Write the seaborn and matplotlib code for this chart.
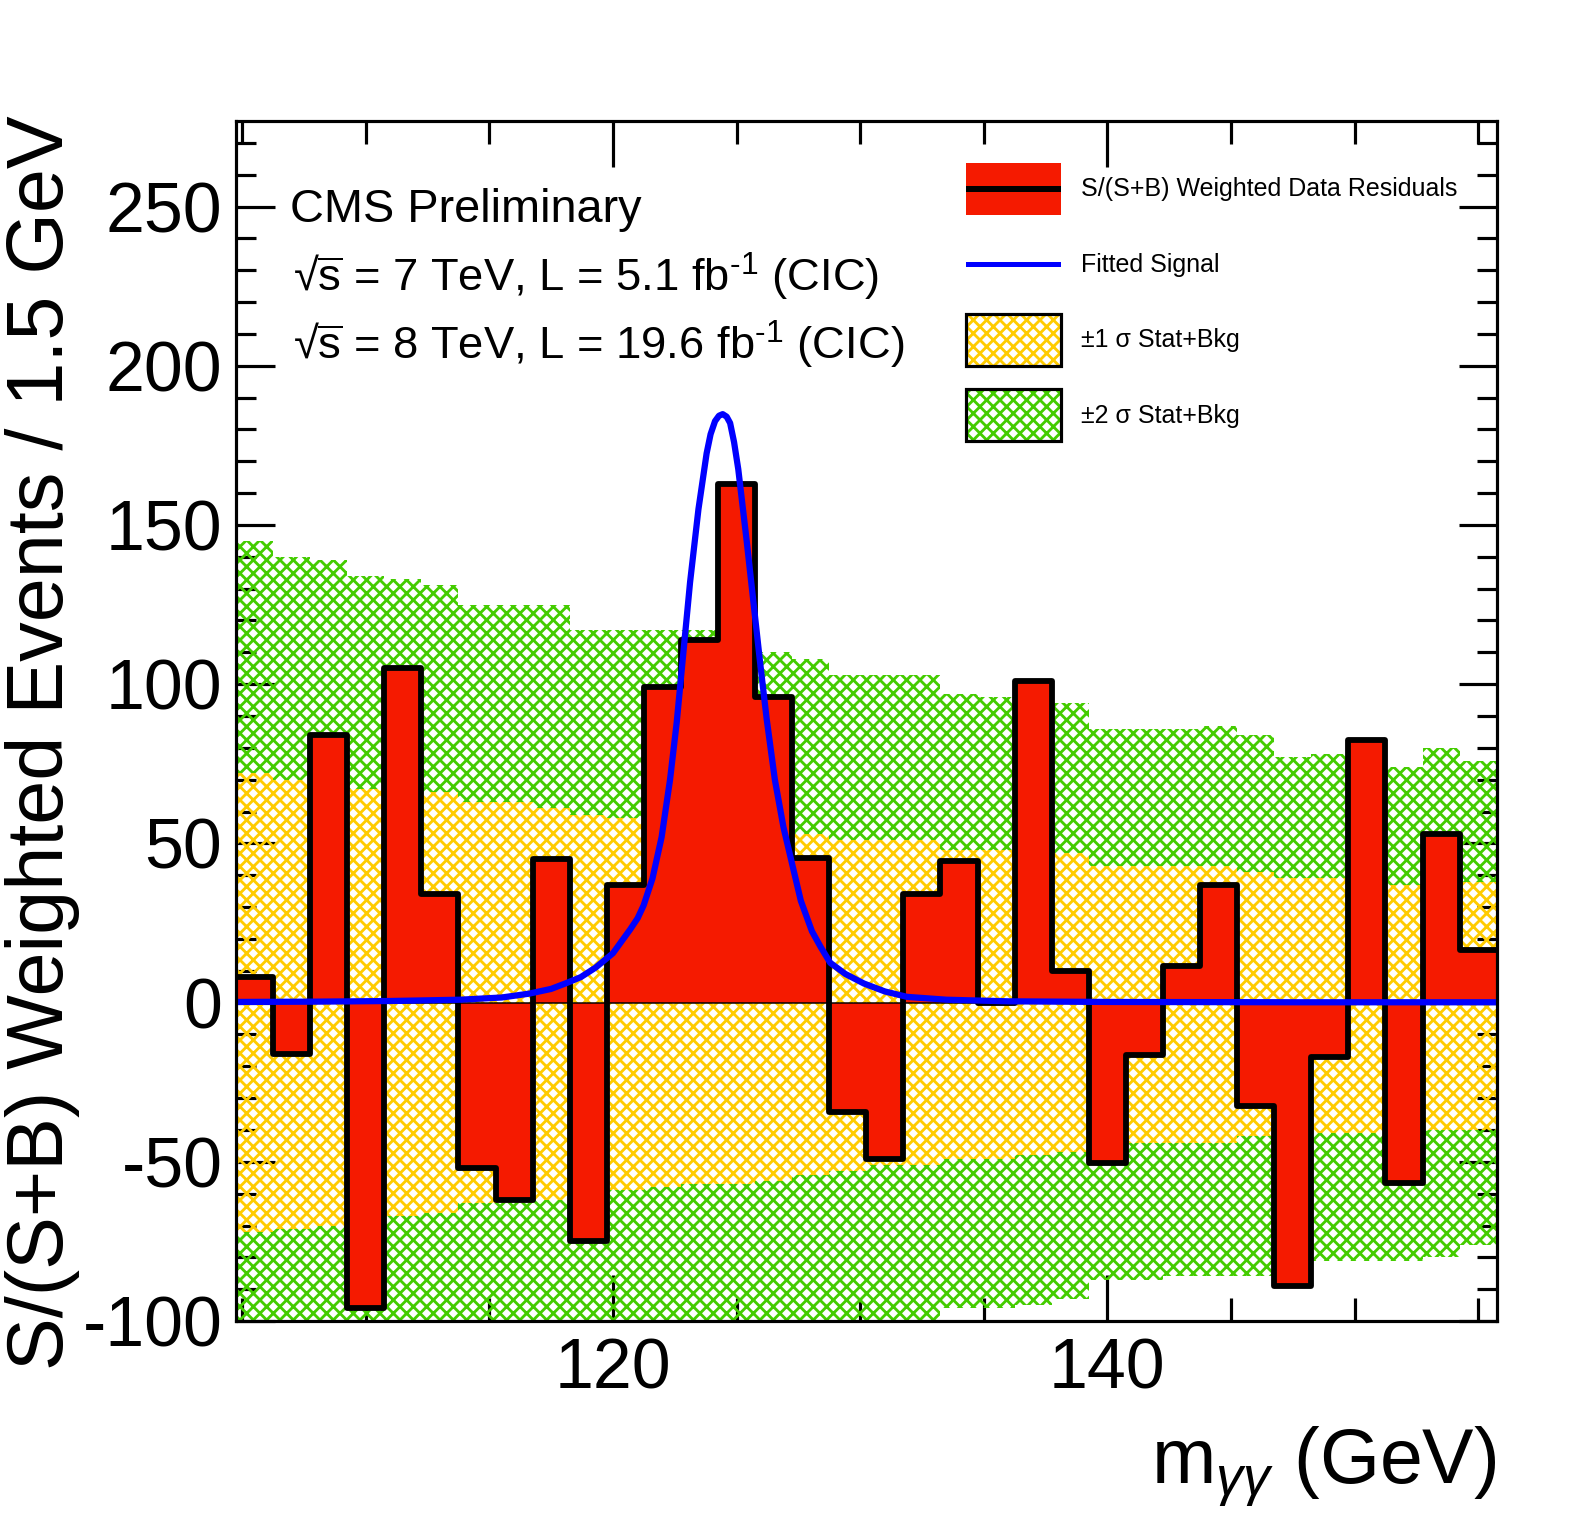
import matplotlib
matplotlib.use("Agg")
import matplotlib.pyplot as plt
import numpy as np
import pandas as pd
import seaborn as sns
from matplotlib.patches import Patch, Rectangle
from matplotlib.legend_handler import HandlerTuple, HandlerPatch
from matplotlib.ticker import FixedLocator, MultipleLocator

# binning: 34 bins of 1.5 GeV
mgg_min = 104.75
bin_width = 1.5
n_bins = 34

# S/(S+B) weighted data minus background, per bin
residuals = [8, -16, 84, -96, 105, 34, -52, -62, 45, -75, 37, 99, 114, 163,
             96, 45.5, -34.5, -49, 34, 44.5, 0, 101, 10, -50.5, -16.5, 11.5,
             37, -32.5, -89, -17, 82.5, -56.5, 53, 16.5]

# +-1 sigma and +-2 sigma stat+bkg bands, per bin
one_sig_hi = [72, 70, 69, 67, 66, 66, 63, 63, 61, 59, 58, 58, 57, 55, 54, 53,
              51, 51, 51, 48, 48, 47, 47, 43, 43, 43, 43, 41, 39, 39, 39, 37,
              39, 38]
one_sig_lo = [-72, -71, -70, -68, -67, -66, -63, -63, -62, -59, -59, -58, -57,
              -57, -56, -54, -53, -51, -51, -49, -49, -48, -47, -44, -44, -44,
              -44, -42, -41, -41, -41, -40, -40, -40]
two_sig_hi = [145, 140, 139, 134, 133, 131, 125, 125, 125, 117, 117, 117, 117,
              113, 110, 108, 103, 103, 103, 97, 96, 95, 94, 86, 86, 86, 87, 84,
              77, 78, 79, 74, 80, 76]
two_sig_lo = [-145, -140, -139, -134, -133, -131, -125, -125, -125, -117, -117,
              -117, -116, -113, -110, -108, -104, -102, -100, -96, -96, -95,
              -93, -87, -87, -86, -86, -86, -84, -81, -81, -81, -80, -76]

# fitted signal curve
sig_mass = [104.75, 108.0, 111.0, 113.8, 115.5, 116.6, 117.5, 118.14, 118.7,
            119.3, 120.0, 120.7, 121.0, 121.24, 121.6, 121.97, 122.31, 122.58,
            122.85, 123.12, 123.46, 123.79, 123.95, 124.13, 124.29, 124.44,
            124.6, 124.74, 124.9, 125.07, 125.41, 125.68, 125.95, 126.22,
            126.55, 126.9, 127.28, 127.6, 128.05, 128.4, 128.79, 129.4,
            130.15, 131.0, 131.9, 133.5, 136.0, 140.0, 148.0, 155.75]
sig_val = [0.2, 0.3, 0.5, 0.9, 1.6, 2.8, 4.3, 6.2, 8.0, 11.0, 15.5, 23.0, 26.5,
           30.5, 39.0, 52.0, 70.0, 88.0, 110.0, 132.0, 155.0, 172.5, 178.5,
           182.6, 184.3, 184.8, 184.0, 182.0, 176.0, 167.5, 145.0, 126.0,
           107.0, 89.0, 70.0, 55.0, 42.5, 32.0, 22.4, 17.5, 12.5, 9.0, 6.0,
           3.5, 1.8, 0.9, 0.4, 0.2, 0.1, 0.1]

red = "#F51A00"
yellow = "#FFCC00"
green = "#44CC00"

sns.set_style("ticks", {"axes.edgecolor": "black", "xtick.color": "black",
                        "ytick.color": "black", "text.color": "black",
                        "axes.labelcolor": "black"})
plt.rcParams["font.family"] = ["Liberation Sans", "DejaVu Sans"]
plt.rcParams["mathtext.fontset"] = "custom"
plt.rcParams["mathtext.rm"] = "Liberation Sans"
plt.rcParams["mathtext.it"] = "Liberation Sans:italic"
plt.rcParams["mathtext.bf"] = "Liberation Sans:bold"
plt.rcParams["axes.unicode_minus"] = False
plt.rcParams["hatch.linewidth"] = 1.7

edges = mgg_min + bin_width * np.arange(n_bins + 1)
centers = edges[:-1] + bin_width / 2
df = pd.DataFrame({"mgg": centers, "resid": residuals})
bin_list = edges.tolist()

fig = plt.figure(figsize=(1575 / 120, 1520 / 120), dpi=120)
ax = fig.add_axes([0.1498, 0.1309, 0.8005, 0.7898])

# diamond cross-hatch like the ROOT fill style
hatch = "xxx"


def band(lo, hi, color):
    lo = np.append(lo, lo[-1])
    hi = np.append(hi, hi[-1])
    ax.fill_between(edges, lo, hi, step="post", facecolor="none",
                    edgecolor=color, hatch=hatch, linewidth=0, zorder=1)


band(one_sig_hi, two_sig_hi, green)
band(two_sig_lo, one_sig_lo, green)
band(one_sig_lo, one_sig_hi, yellow)

# red filled residuals + thick step outline
sns.histplot(data=df, x="mgg", weights="resid", bins=bin_list, common_bins=False,
             element="step", fill=True, color=red, alpha=1, edgecolor="black",
             linewidth=0.9, zorder=3, ax=ax)
sns.histplot(data=df, x="mgg", weights="resid", bins=bin_list, common_bins=False,
             element="step", fill=False, color="black", linewidth=3.5,
             zorder=4, ax=ax)

sns.lineplot(x=sig_mass, y=sig_val, color="blue", linewidth=3.75,
             estimator=None, sort=False, zorder=5, ax=ax)

ax.set_xlim(edges[0], edges[-1])
ax.set_ylim(-100, 277)

ax.xaxis.set_major_locator(FixedLocator([120, 140]))
ax.xaxis.set_minor_locator(MultipleLocator(5))
ax.yaxis.set_major_locator(MultipleLocator(50))
ax.yaxis.set_minor_locator(MultipleLocator(10))
ax.tick_params(which="both", direction="in", top=True, right=True,
               width=1.9, color="black")
ax.tick_params(axis="x", which="major", length=27.5, labelsize=41.9, pad=10)
ax.tick_params(axis="x", which="minor", length=13.75)
ax.tick_params(axis="y", which="major", length=23.1, labelsize=41.9, pad=8.1)
ax.tick_params(axis="y", which="minor", length=11.9)
for sp in ax.spines.values():
    sp.set_linewidth(1.9)
    sp.set_color("black")
    sp.set_zorder(10)

ax.set_ylabel("S/(S+B) Weighted Events / 1.5 GeV", fontsize=47.5, loc="top")
ax.yaxis.set_label_coords(-0.1234, 1.004)
ax.set_xlabel(r"$\mathrm{m}_{\gamma\gamma}$ (GeV)", fontsize=46.25, loc="right")
ax.xaxis.label.set_va("baseline")
ax.xaxis.set_label_coords(1.0, -0.1358)

ax.text(0.0428, 0.9157, "CMS Preliminary", fontsize=28.1,
        transform=ax.transAxes, va="baseline")
ax.text(0.045, 0.8573, r"√$\overline{\mathrm{s}}$ = 7 TeV, L = 5.1 fb$^{\text{-1}}$ (CIC)",
        fontsize=27.25, transform=ax.transAxes, va="baseline")
ax.text(0.045, 0.8004, r"√$\overline{\mathrm{s}}$ = 8 TeV, L = 19.6 fb$^{\text{-1}}$ (CIC)",
        fontsize=27.25, transform=ax.transAxes, va="baseline")


# legend: line-like entries drawn as thin bars centred in the handle box
def thin_bar(thickness):
    def make(legend, orig_handle, xdescent, ydescent, width, height, fontsize):
        return Rectangle((-xdescent, -ydescent + height / 2 - thickness / 2),
                         width, thickness)
    return HandlerPatch(patch_func=make)


data_line = Patch(facecolor="black", edgecolor="none")
sig_line = Patch(facecolor="blue", edgecolor="none")
h_data = (Patch(facecolor=red, edgecolor="none"), data_line)
h_one = (Patch(facecolor="none", edgecolor=yellow, hatch=hatch, linewidth=0),
         Patch(facecolor="none", edgecolor="black", linewidth=1.9))
h_two = (Patch(facecolor="none", edgecolor=green, hatch=hatch, linewidth=0),
         Patch(facecolor="none", edgecolor="black", linewidth=1.9))
ax.legend([h_data, sig_line, h_one, h_two],
          ["S/(S+B) Weighted Data Residuals", "Fitted Signal",
           "±1 σ Stat+Bkg", "±2 σ Stat+Bkg"],
          handler_map={tuple: HandlerTuple(ndivide=1),
                       data_line: thin_bar(3.4), sig_line: thin_bar(2.5)},
          loc="upper left", bbox_to_anchor=(0.579, 0.9646), frameon=False,
          fontsize=15, handlelength=3.8, handleheight=2.82, labelspacing=0.94,
          handletextpad=0.8, borderpad=0, borderaxespad=0)

fig.savefig("out.png", dpi=120)
